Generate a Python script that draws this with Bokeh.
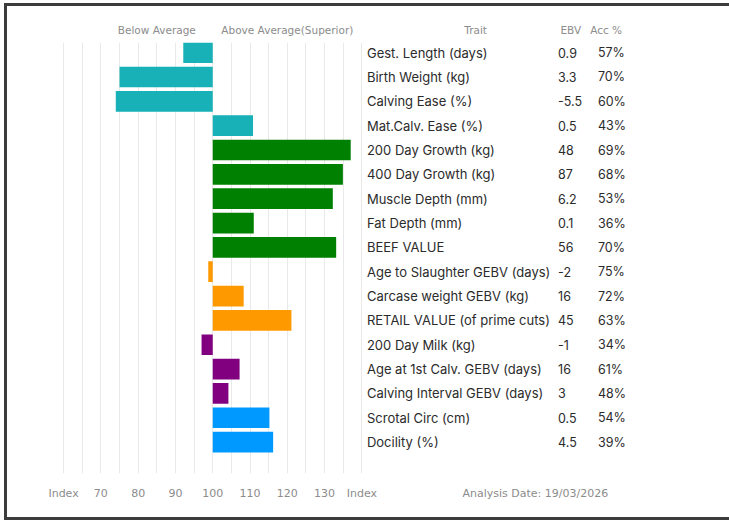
from bokeh.plotting import figure
from bokeh.models import Range1d, FixedTicker, LinearAxis, ColumnDataSource
from bokeh.core.properties import value
from bokeh.embed import file_html
from bokeh.resources import INLINE

traits = ["Gest. Length (days)", "Birth Weight (kg)", "Calving Ease (%)", "Mat.Calv. Ease (%)",
          "200 Day Growth (kg)", "400 Day Growth (kg)", "Muscle Depth (mm)", "Fat Depth (mm)",
          "BEEF VALUE", "Age to Slaughter GEBV (days)", "Carcase weight GEBV (kg)",
          "RETAIL VALUE (of prime cuts)", "200 Day Milk (kg)", "Age at 1st Calv. GEBV (days)",
          "Calving Interval GEBV (days)", "Scrotal Circ (cm)", "Docility (%)"]
ebv = ["0.9", "3.3", "-5.5", "0.5", "48", "87", "6.2", "0.1", "56", "-2", "16", "45", "-1", "16", "3", "0.5", "4.5"]
acc = ["57%", "70%", "60%", "43%", "69%", "68%", "53%", "36%", "70%", "75%", "72%", "63%", "34%", "61%", "48%", "54%", "39%"]
index_values = [92.1, 75.0, 74.0, 110.8, 137.0, 134.9, 132.2, 111.0, 133.1, 98.8, 108.3, 121.1, 97.0, 107.2, 104.2, 115.2, 116.2]
groups = ["calving"] * 4 + ["growth"] * 5 + ["carcase"] * 3 + ["fertility"] * 3 + ["other"] * 2
group_colors = {"calving": "#17b1b7", "growth": "#008000", "carcase": "#ff9900",
                "fertility": "#800080", "other": "#0099ff"}
axis_ticks = [60, 70, 80, 90, 100, 110, 120, 130, 140]
axis_labels = ["Index", "70", "80", "90", "100", "110", "120", "130", "Index"]
analysis_date = "Analysis Date: 19/03/2026"
top_ticks = [85, 120, 170.5, 196, 205.5]
top_labels = ["Below Average", "Above Average(Superior)", "Trait", "EBV", "Acc %"]
baseline = 100

rows = list(range(len(traits)))
src = ColumnDataSource(dict(
    y=rows, trait=traits, ebv=ebv, acc=acc, right=index_values,
    left=[baseline] * len(traits), color=[group_colors[g] for g in groups]))

p = figure(width=725, height=517, x_range=Range1d(55.152, 236.70), y_range=Range1d(17.29, -0.417),
           output_backend="svg", toolbar_location=None,
           min_border_left=38, min_border_right=10, min_border_top=36, min_border_bottom=50,
           x_axis_location=None, y_axis_location=None,
           styles={"border-top": "3px solid #3c3c3c", "border-left": "3px solid #3c3c3c",
                   "border-bottom": "3px solid #3c3c3c", "margin-left": "4px", "margin-top": "3px"})
p.outline_line_color = None
p.background_fill_color = "white"
p.border_fill_color = "white"

p.hbar(y="y", left="left", right="right", height=0.85, color="color", line_color=None, source=src)

label_font = value("Inter")
p.text(x=141.35, y="y", text="trait", source=src, text_font=label_font, text_font_size="13px",
       text_color="#2b2b2b", text_baseline="middle", text_align="left")
p.text(x=192.6, y="y", text="ebv", source=src, text_font=label_font, text_font_size="12.5px",
       text_color="#2b2b2b", text_baseline="middle", text_align="left")
p.text(x=203.3, y="y", text="acc", source=src, text_font=label_font, text_font_size="12.5px",
       text_color="#2b2b2b", text_baseline="middle", text_align="left")

# bottom axis
bticks = axis_ticks + [186.5]
bottom = LinearAxis(ticker=FixedTicker(ticks=bticks),
                    major_label_overrides={**{t: l for t, l in zip(axis_ticks, axis_labels)}, 186.5: analysis_date})
# top axis
top = LinearAxis(ticker=FixedTicker(ticks=top_ticks),
                 major_label_overrides={t: l for t, l in zip(top_ticks, top_labels)})
for ax, so, fs in ((bottom, 13, "11px"), (top, 7, "10.5px")):
    ax.axis_line_color = None
    ax.major_tick_line_color = None
    ax.minor_tick_line_color = None
    ax.major_tick_out = 0
    ax.major_tick_in = 0
    ax.major_label_standoff = so
    ax.major_label_text_font = "DejaVu Sans"
    ax.major_label_text_font_size = fs
    ax.major_label_text_color = "#8c8c8c"
p.add_layout(bottom, "below")
p.add_layout(top, "above")

p.xgrid.ticker = FixedTicker(ticks=list(range(60, 141, 5)))
p.xgrid.grid_line_color = "#e9e9e9"
p.ygrid.visible = False

open("out.html", "w").write(file_html(p, INLINE))
